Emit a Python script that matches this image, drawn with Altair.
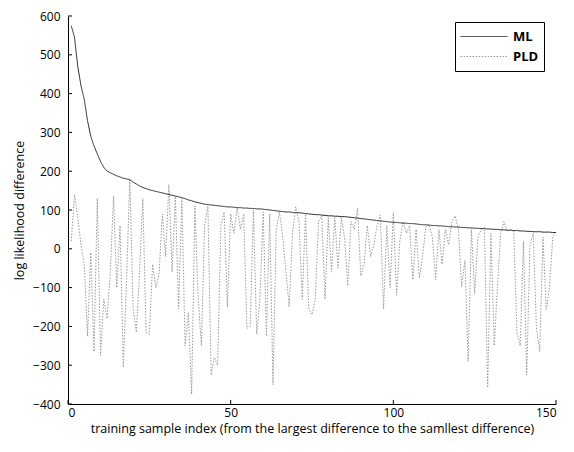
import altair as alt
import pandas as pd

x_index = list(range(1, 151))

ml_values = [
    575, 545, 470, 420, 385, 330, 290, 265, 245, 225,
    210, 200, 196, 192, 188, 185, 182, 180, 178, 172,
    167, 162, 158, 155, 152, 150, 148, 146, 144, 142,
    140, 138, 136, 134, 132, 129, 126, 124, 121, 119,
    117, 115, 114, 113, 112, 111, 110, 109, 108, 108,
    107, 106, 106, 105, 105, 104, 104, 103, 103, 102,
    101, 100, 99, 98, 97, 96, 95, 95, 94, 93,
    93, 92, 91, 90, 89, 88, 88, 87, 86, 85,
    85, 84, 84, 83, 83, 82, 81, 80, 79, 78,
    77, 76, 75, 74, 73, 72, 71, 70, 69, 68,
    68, 67, 66, 66, 65, 65, 64, 63, 62, 62,
    61, 60, 60, 59, 59, 58, 57, 57, 56, 56,
    55, 55, 54, 54, 53, 53, 52, 52, 51, 51,
    50, 50, 49, 49, 48, 48, 47, 47, 46, 46,
    45, 45, 44, 44, 44, 43, 43, 43, 42, 42,
]

pld_values = [
    20, 140, 80, 10, -40, -225, -10, -265, 130, -275,
    -130, -180, -60, 135, -100, 60, -305, -80, 180, -150,
    -215, -60, 130, -215, -220, -40, -100, -65, 90, -20,
    165, -60, 135, -155, 130, -250, -165, -375, 110, -125,
    -250, 60, 110, -325, -280, -300, 60, 95, -150, 90,
    40, 108, 50, 90, -205, -200, 100, -220, -130, 95,
    -225, 90, -350, 50, 95, 30, -60, -150, 40, 108,
    70, -130, 90, -155, -170, -130, 70, 85, -130, 80,
    -60, 80, -50, 80, 30, -95, 70, 50, 104, -70,
    -40, 60, -20, 10, 60, 87, -155, 60, -100, 95,
    -120, 20, 70, 40, 60, -80, 50, -75, -20, 60,
    62, 30, -80, 50, -40, 50, 10, 70, 85, 50,
    -98, -30, -290, 50, -115, 30, 50, 55, -358, 40,
    -250, -100, 40, 70, 45, 50, 45, -215, -250, 20,
    -325, 10, 40, -207, -265, 30, -156, -100, 30, 45,
]

series_names = ["ML", "PLD"]
y_ticks = [-400, -300, -200, -100, 0, 100, 200, 300, 400, 500, 600]
x_ticks = [0, 50, 100, 150]

df = pd.DataFrame({
    "x": x_index + x_index,
    "y": ml_values + pld_values,
    "series": ["ML"] * len(ml_values) + ["PLD"] * len(pld_values),
})

W, H = 488, 388
FONT = "Open Sans"

xscale = alt.Scale(domain=[0, 150], nice=False, zero=False)
yscale = alt.Scale(domain=[-400, 600], nice=False, zero=False)

color = alt.Color(
    "series:N",
    scale=alt.Scale(domain=series_names, range=["#2a2a2a", "#9a9a9a"]),
    legend=alt.Legend(title=None),
)
dash = alt.StrokeDash(
    "series:N",
    scale=alt.Scale(domain=series_names, range=[[1, 0], [1.5, 1.5]]),
    legend=alt.Legend(title=None),
)

x_axis = alt.Axis(values=x_ticks,
                  title="training sample  index (from the largest difference to the samllest difference)",
                  ticks=False, labelPadding=3, titlePadding=4, grid=False,
                  titleFontSize=12.5)
y_axis = alt.Axis(values=y_ticks, title="log likelihood difference", ticks=False,
                  labelPadding=8, titlePadding=6, grid=False, titleFontSize=12.5)

base = alt.Chart(df).mark_line(strokeWidth=1).encode(
    x=alt.X("x:Q", scale=xscale, axis=x_axis),
    y=alt.Y("y:Q", scale=yscale, axis=y_axis),
    color=color, strokeDash=dash,
)
pld = base.transform_filter(alt.datum.series == "PLD")
ml = base.transform_filter(alt.datum.series == "ML")

ytick_df = pd.DataFrame({"y": y_ticks})
xtick_df = pd.DataFrame({"x": x_ticks})

ytick_layer = alt.Chart(ytick_df).mark_rule(color="black", strokeWidth=1).encode(
    y=alt.Y("y:Q", scale=yscale, axis=y_axis),
    x=alt.value(0), x2=alt.value(4),
)
xtick_layer = alt.Chart(xtick_df).mark_rule(color="black", strokeWidth=1).encode(
    x=alt.X("x:Q", scale=xscale, axis=x_axis),
    y=alt.value(H), y2=alt.value(H - 4),
)

chart = alt.layer(pld, ml, ytick_layer, xtick_layer).properties(
    width=W, height=H,
    autosize=alt.AutoSizeParams(type="none"),
    padding={"left": 60, "top": 8, "right": 10, "bottom": 40},
).configure_view(stroke=None).configure_axis(
    domainColor="black", domainWidth=1,
    labelFont=FONT, labelFontSize=12, labelColor="black",
    titleFont=FONT, titleFontWeight="normal", titleColor="black",
).configure_legend(
    orient="none", legendX=387, legendY=6,
    strokeColor="black", fillColor="white", padding=5,
    symbolType="stroke", symbolSize=2200, symbolStrokeWidth=1,
    clipHeight=19,
    labelFont=FONT, labelFontSize=13, labelFontWeight="bold", labelColor="black",
    rowPadding=1, labelOffset=5,
)

chart.save("out.html", embed_options={"renderer": "svg", "actions": False})
